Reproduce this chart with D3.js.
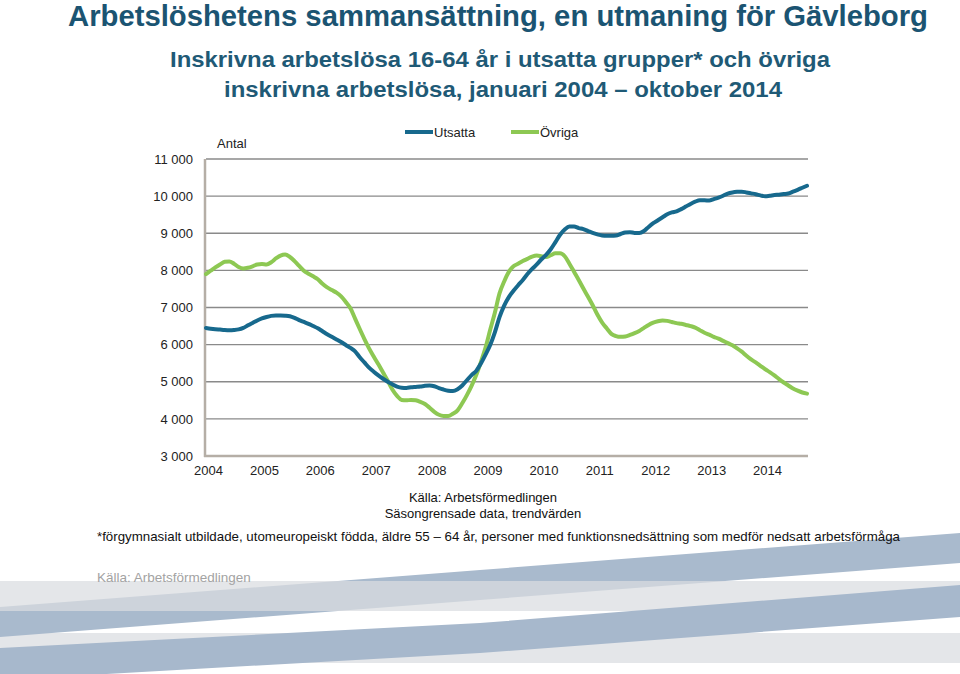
<!DOCTYPE html>
<html>
<head>
<meta charset="utf-8">
<script src="https://cdn.jsdelivr.net/npm/d3@7"></script>
<style>
  html, body { margin: 0; padding: 0; background: #fff; }
  svg { display: block; font-family: "Liberation Sans", Arial, sans-serif; }
</style>
</head>
<body>
<svg id="chart" width="960" height="674"></svg>
<script>
// ---- Data (monthly, januari 2004 – oktober 2014) ----
const startYear = 2004;
const tickYears = ["2004","2005","2006","2007","2008","2009","2010","2011","2012","2013","2014"];
const yTicks = [3000, 4000, 5000, 6000, 7000, 8000, 9000, 10000, 11000];
const seriesNames = ["Utsatta", "Övriga"];

const utsatta = [
  6450,6430,6415,6405,6395,6390,6395,6410,6450,6520,6585,6650,
  6705,6745,6775,6785,6785,6780,6765,6720,6660,6610,6560,6500,
  6440,6360,6280,6210,6140,6070,5990,5910,5820,5660,5520,5380,
  5270,5170,5080,5000,4930,4870,4840,4835,4850,4860,4870,4890,
  4900,4880,4830,4790,4760,4750,4800,4900,5040,5180,5290,5490,
  5730,5990,6330,6740,7050,7280,7450,7600,7740,7900,8040,8160,
  8300,8420,8570,8760,8960,9100,9180,9180,9140,9110,9060,9010,
  8970,8940,8935,8935,8940,8980,9020,9030,9010,9010,9060,9170,
  9270,9350,9430,9510,9560,9590,9650,9720,9790,9850,9890,9890,
  9880,9920,9960,10010,10070,10100,10115,10120,10100,10075,10050,10020,
  9995,10010,10030,10040,10055,10070,10120,10170,10225,10280
];

const ovriga = [
  7900,7990,8080,8160,8230,8240,8180,8090,8050,8070,8110,8160,
  8170,8160,8220,8320,8400,8425,8360,8250,8120,7990,7910,7840,
  7760,7640,7540,7470,7400,7300,7150,6980,6700,6420,6150,5900,
  5680,5470,5250,5030,4790,4620,4510,4500,4510,4500,4460,4400,
  4300,4190,4110,4080,4080,4140,4230,4420,4640,4890,5180,5530,
  5920,6400,6860,7380,7700,7960,8110,8180,8250,8310,8370,8400,
  8380,8360,8410,8460,8460,8380,8180,7960,7740,7510,7290,7060,
  6810,6600,6440,6290,6230,6210,6220,6260,6310,6370,6450,6530,
  6590,6630,6650,6640,6610,6580,6560,6530,6500,6460,6390,6320,
  6270,6210,6160,6100,6040,5980,5900,5810,5700,5600,5520,5430,
  5340,5260,5170,5070,4980,4900,4820,4760,4710,4680
];

const colors = { Utsatta: "#17698d", "Övriga": "#8dc853" };

// ---- Layout ----
const svg = d3.select("#chart");
const plot = { left: 206, right: 807, top: 159, bottom: 456 };

// ---- Background decoration (bottom stripes) ----
const deco = svg.append("g");
const bandA = [[0,607],[480,570],[960,533],[960,563],[480,600],[0,637]];
const bandB = [[0,648],[480,623],[960,585],[960,617],[480,653],[0,680]];
const poly = d3.line();
deco.append("rect").attr("x",0).attr("y",633).attr("width",960).attr("height",30).attr("fill","#e4e6e9");
deco.append("path").attr("d", poly(bandA) + "Z").attr("fill", "#a9bacd");
deco.append("rect").attr("x",0).attr("y",581).attr("width",960).attr("height",30).attr("fill","#e4e6e9");
svg.append("clipPath").attr("id","g1clip").append("rect").attr("x",0).attr("y",581).attr("width",960).attr("height",30);
deco.append("path").attr("d", poly(bandA) + "Z").attr("fill", "#cdd3db").attr("clip-path","url(#g1clip)");
deco.append("path").attr("d", poly(bandB) + "Z").attr("fill", "#a7b8cc");

// ---- Titles ----
svg.append("text").attr("x", 68).attr("y", 26)
  .attr("textLength", 860).attr("lengthAdjust", "spacingAndGlyphs")
  .attr("font-size", 30).attr("font-weight", "bold").attr("fill", "#1b5472")
  .text("Arbetslöshetens sammansättning, en utmaning för Gävleborg");
svg.append("text").attr("x", 170).attr("y", 67)
  .attr("textLength", 660).attr("lengthAdjust", "spacingAndGlyphs")
  .attr("font-size", 22).attr("font-weight", "bold").attr("fill", "#1f5a76")
  .text("Inskrivna arbetslösa 16-64 år i utsatta grupper* och övriga");
svg.append("text").attr("x", 224).attr("y", 97)
  .attr("textLength", 558).attr("lengthAdjust", "spacingAndGlyphs")
  .attr("font-size", 22).attr("font-weight", "bold").attr("fill", "#1f5a76")
  .text("inskrivna arbetslösa, januari 2004 – oktober 2014");

// ---- Scales ----
const x = d3.scaleLinear().domain([0, utsatta.length - 1]).range([plot.left, plot.right]);
const y = d3.scaleLinear().domain([3000, 11000]).range([plot.bottom, plot.top]);
const fmt = v => d3.format(",")(v).replace(/,/g, "\u00a0");

// gridlines
svg.append("g").selectAll("line").data(yTicks.filter(v => v > 3000)).join("line")
  .attr("x1", plot.left).attr("x2", plot.right + 1)
  .attr("y1", d => y(d)).attr("y2", d => y(d))
  .attr("stroke", "#8a8a8a").attr("stroke-width", 1.3);

// y tick labels
const yAxis = d3.axisLeft(y).tickValues(yTicks).tickFormat(fmt).tickSize(0).tickPadding(12);
const gy = svg.append("g").attr("transform", `translate(${plot.left - 1},0)`).call(yAxis);
gy.select(".domain").remove();
gy.selectAll("text").attr("font-size", 13).attr("fill", "#222").attr("font-family", "Liberation Sans, Arial, sans-serif");

// x tick labels at each January
const xAxis = d3.axisBottom(x).tickValues(tickYears.map((t, i) => i * 12))
  .tickFormat((d, i) => tickYears[i]).tickSize(0).tickPadding(10);
const gx = svg.append("g").attr("transform", `translate(2,${plot.bottom})`).call(xAxis);
gx.select(".domain").remove();
gx.selectAll("text").attr("font-size", 13).attr("fill", "#222").attr("font-family", "Liberation Sans, Arial, sans-serif");

// axis lines
svg.append("line").attr("x1", plot.left - 1).attr("x2", plot.left - 1).attr("y1", plot.top).attr("y2", plot.bottom + 1)
  .attr("stroke", "#b5aea6").attr("stroke-width", 2.5);
svg.append("line").attr("x1", plot.left - 2).attr("x2", plot.right + 1).attr("y1", plot.bottom).attr("y2", plot.bottom)
  .attr("stroke", "#b5aea6").attr("stroke-width", 2.5);

// "Antal"
svg.append("text").attr("x", 217).attr("y", 148).attr("font-size", 13).attr("fill", "#222").text("Antal");

// ---- Lines ----
const line = d3.line().x((d, i) => x(i)).y(d => y(d)).curve(d3.curveMonotoneX);
const seriesData = { Utsatta: utsatta, "Övriga": ovriga };
svg.append("g").selectAll("path").data(seriesNames.slice().reverse()).join("path")
  .attr("d", n => line(seriesData[n]))
  .attr("fill", "none").attr("stroke", n => colors[n])
  .attr("stroke-width", 4).attr("stroke-linejoin", "round").attr("stroke-linecap", "round");

// ---- Legend ----
const legendX = [405, 511];
const lg = svg.append("g").selectAll("g").data(seriesNames).join("g")
  .attr("transform", (d, i) => `translate(${legendX[i]},132)`);
lg.append("line").attr("x1", 0).attr("x2", 28).attr("y1", 0).attr("y2", 0)
  .attr("stroke", d => colors[d]).attr("stroke-width", 4);
lg.append("text").attr("x", 29).attr("y", 5).attr("font-size", 13).attr("fill", "#222").text(d => d);

// ---- Source & footnotes ----
svg.append("text").attr("x", 483).attr("y", 502).attr("text-anchor", "middle")
  .attr("font-size", 13).attr("fill", "#111").text("Källa: Arbetsförmedlingen");
svg.append("text").attr("x", 483).attr("y", 518).attr("text-anchor", "middle")
  .attr("font-size", 13).attr("fill", "#111").text("Säsongrensade data, trendvärden");
svg.append("text").attr("x", 97).attr("y", 541)
  .attr("textLength", 803).attr("lengthAdjust", "spacingAndGlyphs")
  .attr("font-size", 13.5).attr("fill", "#111")
  .text("*förgymnasialt utbildade, utomeuropeiskt födda, äldre 55 – 64 år, personer med funktionsnedsättning som medför nedsatt arbetsförmåga");
svg.append("text").attr("x", 97).attr("y", 582)
  .attr("font-size", 13.5).attr("fill", "#a3a3a3").text("Källa: Arbetsförmedlingen");
</script>
</body>
</html>
